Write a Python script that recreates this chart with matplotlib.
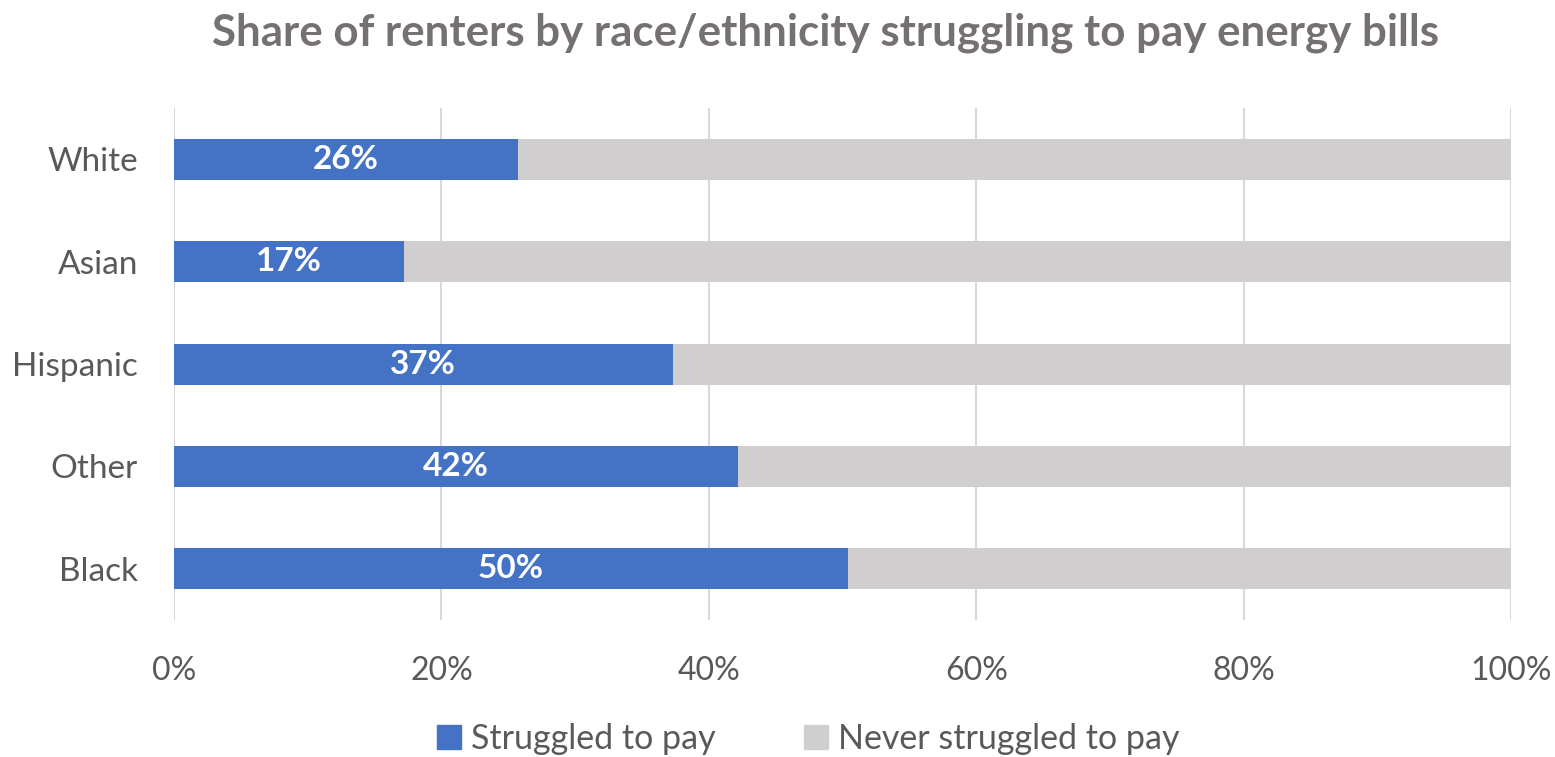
import matplotlib.pyplot as plt
from matplotlib.patches import Patch
import numpy as np

groups = ["White", "Asian", "Hispanic", "Other", "Black"]
struggled = [25.7, 17.2, 37.3, 42.2, 50.4]
labels = ["26%", "17%", "37%", "42%", "50%"]
never = [100 - v for v in struggled]

blue = "#4472C4"
grey = "#D0CECE"
text_c = "#595959"

plt.rcParams["font.family"] = ["Lato", "DejaVu Sans"]

fig = plt.figure(figsize=(15.55, 7.57), dpi=100)
ax = fig.add_axes([0.1119, 0.181, 0.8598, 0.676])

y = np.arange(len(groups))[::-1]
ax.barh(y, struggled, height=0.4, color=blue, zorder=3)
ax.barh(y, never, left=struggled, height=0.4, color=grey, zorder=3)

for yi, v, lab in zip(y, struggled, labels):
    ax.text(v / 2, yi, lab, ha="center", va="center", color="white",
            fontsize=24, fontweight="bold", zorder=4)

ax.set_xlim(0, 100)
ax.set_ylim(-0.5, 4.5)
ax.set_xticks([0, 20, 40, 60, 80, 100])
ax.set_xticklabels(["0%", "20%", "40%", "60%", "80%", "100%"])
ax.set_yticks(y)
ax.set_yticklabels(groups)
ax.tick_params(length=0, colors=text_c)
ax.tick_params(axis="x", pad=26, labelsize=23)
ax.tick_params(axis="y", pad=26, labelsize=24)
ax.xaxis.grid(True, color="#D9D9D9", linewidth=1.5, zorder=0)
for s in ax.spines.values():
    s.set_visible(False)

fig.suptitle("Share of renters by race/ethnicity struggling to pay energy bills",
             x=0.531, y=0.983, fontsize=31.6, fontweight="bold", color="#767171")

handles = [Patch(color=blue), Patch(color=grey)]
fig.legend(handles, ["Struggled to pay", "Never struggled to pay"],
           loc="center", bbox_to_anchor=(0.52, 0.024), ncol=2, frameon=False,
           fontsize=24.5, labelcolor=text_c, handlelength=0.7, handleheight=0.7,
           handletextpad=0.3, columnspacing=2.6)

fig.savefig("out.png", dpi=100)
